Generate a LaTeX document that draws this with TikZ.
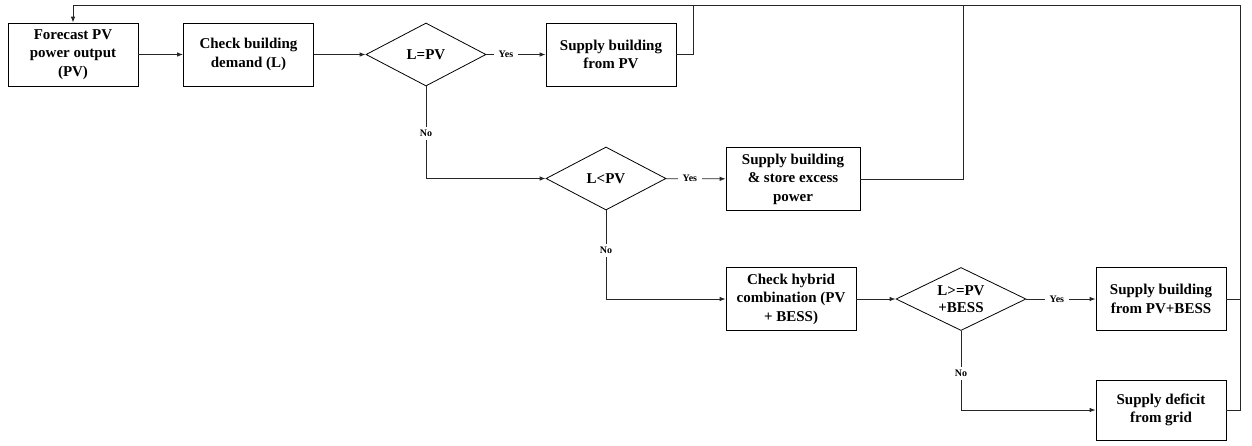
\documentclass[tikz,border=0pt]{standalone}
\usepackage{fontspec}
\setmainfont{Liberation Serif}
\usetikzlibrary{shapes.geometric,arrows.meta}
\begin{document}
\begin{tikzpicture}[x=1pt,y=-1pt,line width=0.8pt,
  ln/.style={draw=black!85},
  box/.style={draw,rectangle,minimum width=130pt,minimum height=63pt,align=center,inner sep=2pt,
    font=\fontsize{15}{18.5}\selectfont\bfseries},
  dec/.style={draw,diamond,inner sep=0pt,minimum width=120pt,minimum height=63pt,align=center,
    aspect=1.9,font=\fontsize{15}{18.5}\selectfont\bfseries},
  arr/.style={ln,-{Latex[length=6pt,width=4.5pt]}},
  lab/.style={fill=white,inner xsep=5pt,inner ysep=3pt,font=\fontsize{10}{12}\selectfont\bfseries}]
\useasboundingbox (0,0) rectangle (1252,445);
\node[box] (b1) at (73,54.5) {Forecast PV\\power output\\(PV)};
\node[box] (b2) at (248.5,54.5) {Check building\\demand (L)};
\node[dec] (d1) at (426,54.5) {L=PV};
\node[box] (b3) at (611,54.5) {Supply building\\from PV};
\node[dec] (d2) at (606,178.5) {L<PV};
\node[box,minimum width=134pt] (b4) at (793,179) {Supply building\\\& store excess\\power};
\node[box] (b5) at (791,299) {Check hybrid\\combination (PV\\+ BESS)};
\node[dec,minimum width=130pt,aspect=2.1,font=\fontsize{15}{17}\selectfont\bfseries] (d3) at (961,299) {L>=PV\\+BESS};
\node[box] (b6) at (1161,299) {Supply building\\from PV+BESS};
\node[box,minimum height=60pt] (b7) at (1161,410) {Supply deficit\\from grid};
\coordinate (j1) at (693,5);
\coordinate (j2) at (963,5);
\coordinate (j3) at (1240,5);
\draw[arr] (b1) -- (b2);
\draw[arr] (b2) -- (d1);
\draw[arr] (d1) -- node[lab,pos=0.33]{Yes} (b3);
\draw[arr] (d1.south) |- node[lab,pos=0.255]{No} (d2.west);
\draw[arr] (d2) -- node[lab,pos=0.4]{Yes} (b4);
\draw[arr] (d2.south) |- node[lab,pos=0.227]{No} (b5.west);
\draw[arr] (b5) -- (d3);
\draw[arr] (d3) -- node[lab,pos=0.44]{Yes} (b6);
\draw[arr] (d3.south) |- node[lab,pos=0.27]{No} (b7.west);
\draw[ln] (b3.east) -| (j1);
\draw[ln] (b4.east) -| (j2);
\draw[ln] (b6.east) -| (j3);
\draw[ln] (b7.east) -| (j3);
\draw[arr] (j3) -| (b1.north);
\end{tikzpicture}
\end{document}
